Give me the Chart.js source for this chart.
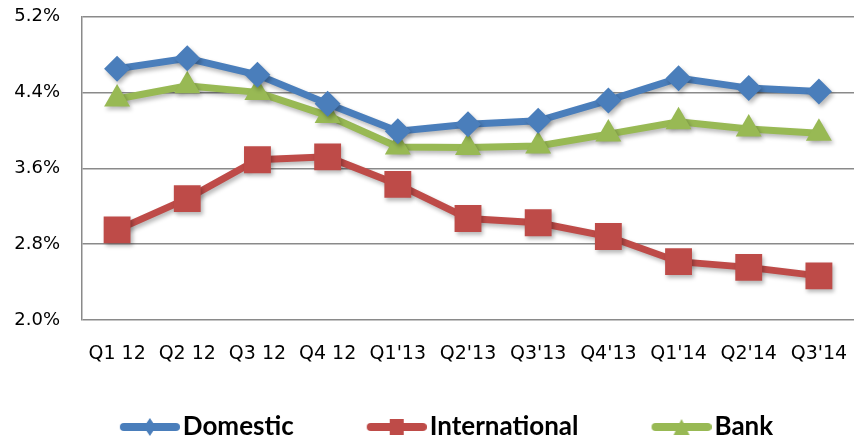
<!DOCTYPE html>
<html>
<head>
<meta charset="utf-8">
<script src="https://cdn.jsdelivr.net/npm/chart.js@4.4.1/dist/chart.umd.min.js"></script>
<style>
  html, body { margin: 0; padding: 0; background: #fff; }
  #wrap { width: 854px; height: 440px; }
</style>
</head>
<body>
<div id="wrap"><canvas id="rateChart" width="854" height="440"></canvas></div>
<script>
const quarters = ["Q1 12", "Q2 12", "Q3 12", "Q4 12", "Q1'13", "Q2'13", "Q3'13", "Q4'13", "Q1'14", "Q2'14", "Q3'14"];
const domestic = [4.65, 4.76, 4.585, 4.28, 3.99, 4.065, 4.10, 4.315, 4.55, 4.445, 4.41];
const international = [2.95, 3.28, 3.69, 3.72, 3.43, 3.07, 3.025, 2.88, 2.615, 2.555, 2.465];
const bank = [4.33, 4.47, 4.40, 4.155, 3.825, 3.82, 3.835, 3.96, 4.09, 4.015, 3.97];
const yTicks = [2.0, 2.8, 3.6, 4.4, 5.2];

const BLUE = '#4a7ebb', RED = '#be4b48', GREEN = '#98b954';

// legend box is wider than the icon, the blank left part works as the gap between items
const LEG_PAD = 2;
const LEG_BOX = 123 - LEG_PAD;
const LEG_IMG = LEG_BOX + 20;

function legendIcon(color, shape) {
  const c = document.createElement('canvas');
  c.width = LEG_IMG; c.height = 22;
  const g = c.getContext('2d');
  const x0 = LEG_IMG - 60, mid = LEG_IMG - 30;
  g.strokeStyle = color; g.lineWidth = 8; g.lineCap = 'round';
  g.beginPath(); g.moveTo(x0 + 4, 11); g.lineTo(LEG_IMG - 4, 11); g.stroke();
  g.fillStyle = color;
  g.beginPath();
  if (shape === 'diamond') {
    g.moveTo(mid, 2); g.lineTo(mid + 6, 11); g.lineTo(mid, 20); g.lineTo(mid - 6, 11);
  } else if (shape === 'square') {
    g.rect(mid - 7, 3, 14, 16);
  } else {
    g.moveTo(mid, 3); g.lineTo(mid + 8, 19); g.lineTo(mid - 8, 19);
  }
  g.closePath(); g.fill();
  return c;
}

const shadowPlugin = {
  id: 'markerShadow',
  afterLayout(chart) {
    // move the legend row a little, like the original
    const l = chart.legend;
    l.left -= 16; l.right -= 16;
    l.top += 10; l.bottom += 10;
  },
  beforeDatasetsDraw(chart) {
    const ctx = chart.ctx;
    ctx.save();
    ctx.shadowColor = 'rgba(0,0,0,0.28)';
    ctx.shadowBlur = 4;
    ctx.shadowOffsetX = 2;
    ctx.shadowOffsetY = 3;
  },
  afterDatasetsDraw(chart) {
    chart.ctx.restore();
  }
};

const ctx = document.getElementById('rateChart');
new Chart(ctx, {
  type: 'line',
  data: {
    labels: quarters,
    datasets: [
      {
        label: 'Domestic',
        data: domestic,
        borderColor: BLUE,
        backgroundColor: BLUE,
        borderWidth: 7,
        pointStyle: 'rectRot',
        pointRadius: 13,
        pointHoverRadius: 13,
        pointBorderWidth: 0
      },
      {
        label: 'International',
        data: international,
        borderColor: RED,
        backgroundColor: RED,
        borderWidth: 7,
        pointStyle: 'rect',
        pointRadius: 19,
        pointHoverRadius: 19,
        pointBorderWidth: 0
      },
      {
        label: 'Bank',
        data: bank,
        borderColor: GREEN,
        backgroundColor: GREEN,
        borderWidth: 7,
        pointStyle: 'triangle',
        pointRadius: 15,
        pointHoverRadius: 15,
        pointBorderWidth: 0
      }
    ]
  },
  options: {
    responsive: false,
    animation: false,
    layout: { autoPadding: false, padding: 0 },
    scales: {
      x: {
        offset: true,
        grid: { display: false, drawTicks: false },
        border: { display: false },
        ticks: {
          color: '#000',
          padding: 23,
          maxRotation: 0,
          autoSkip: false,
          font: { family: 'DejaVu Sans', size: 19 }
        },
        afterFit(scale) {
          scale.height = 82;
          scale.paddingLeft = 0;
          scale.paddingRight = 0;
        }
      },
      y: {
        min: 2.0,
        max: 5.2,
        afterBuildTicks(scale) { scale.ticks = yTicks.map(v => ({ value: v })); },
        grid: { color: '#8a8a8a', lineWidth: 1.5, drawTicks: false },
        border: { display: true, color: '#8a8a8a', width: 1.5 },
        ticks: {
          color: '#000',
          padding: 22,
          font: { family: 'DejaVu Sans', size: 18 },
          callback: v => v.toFixed(1) + '%'
        },
        afterFit(scale) {
          scale.width = 82;
          scale.paddingTop = 16.5;
          scale.paddingBottom = 0;
        }
      }
    },
    plugins: {
      tooltip: { enabled: false },
      legend: {
        position: 'bottom',
        labels: {
          usePointStyle: true,
          pointStyleWidth: LEG_BOX,
          padding: LEG_PAD,
          color: '#000',
          font: { family: 'Lato', size: 26, weight: 'bold' },
          generateLabels(chart) {
            const shapes = ['diamond', 'square', 'triangle'];
            return chart.data.datasets.map((ds, i) => ({
              text: ds.label,
              pointStyle: legendIcon(ds.borderColor, shapes[i]),
              fillStyle: ds.borderColor,
              strokeStyle: ds.borderColor,
              lineWidth: 0,
              datasetIndex: i,
              fontColor: '#000'
            }));
          }
        }
      }
    }
  },
  plugins: [shadowPlugin]
});
</script>
</body>
</html>
